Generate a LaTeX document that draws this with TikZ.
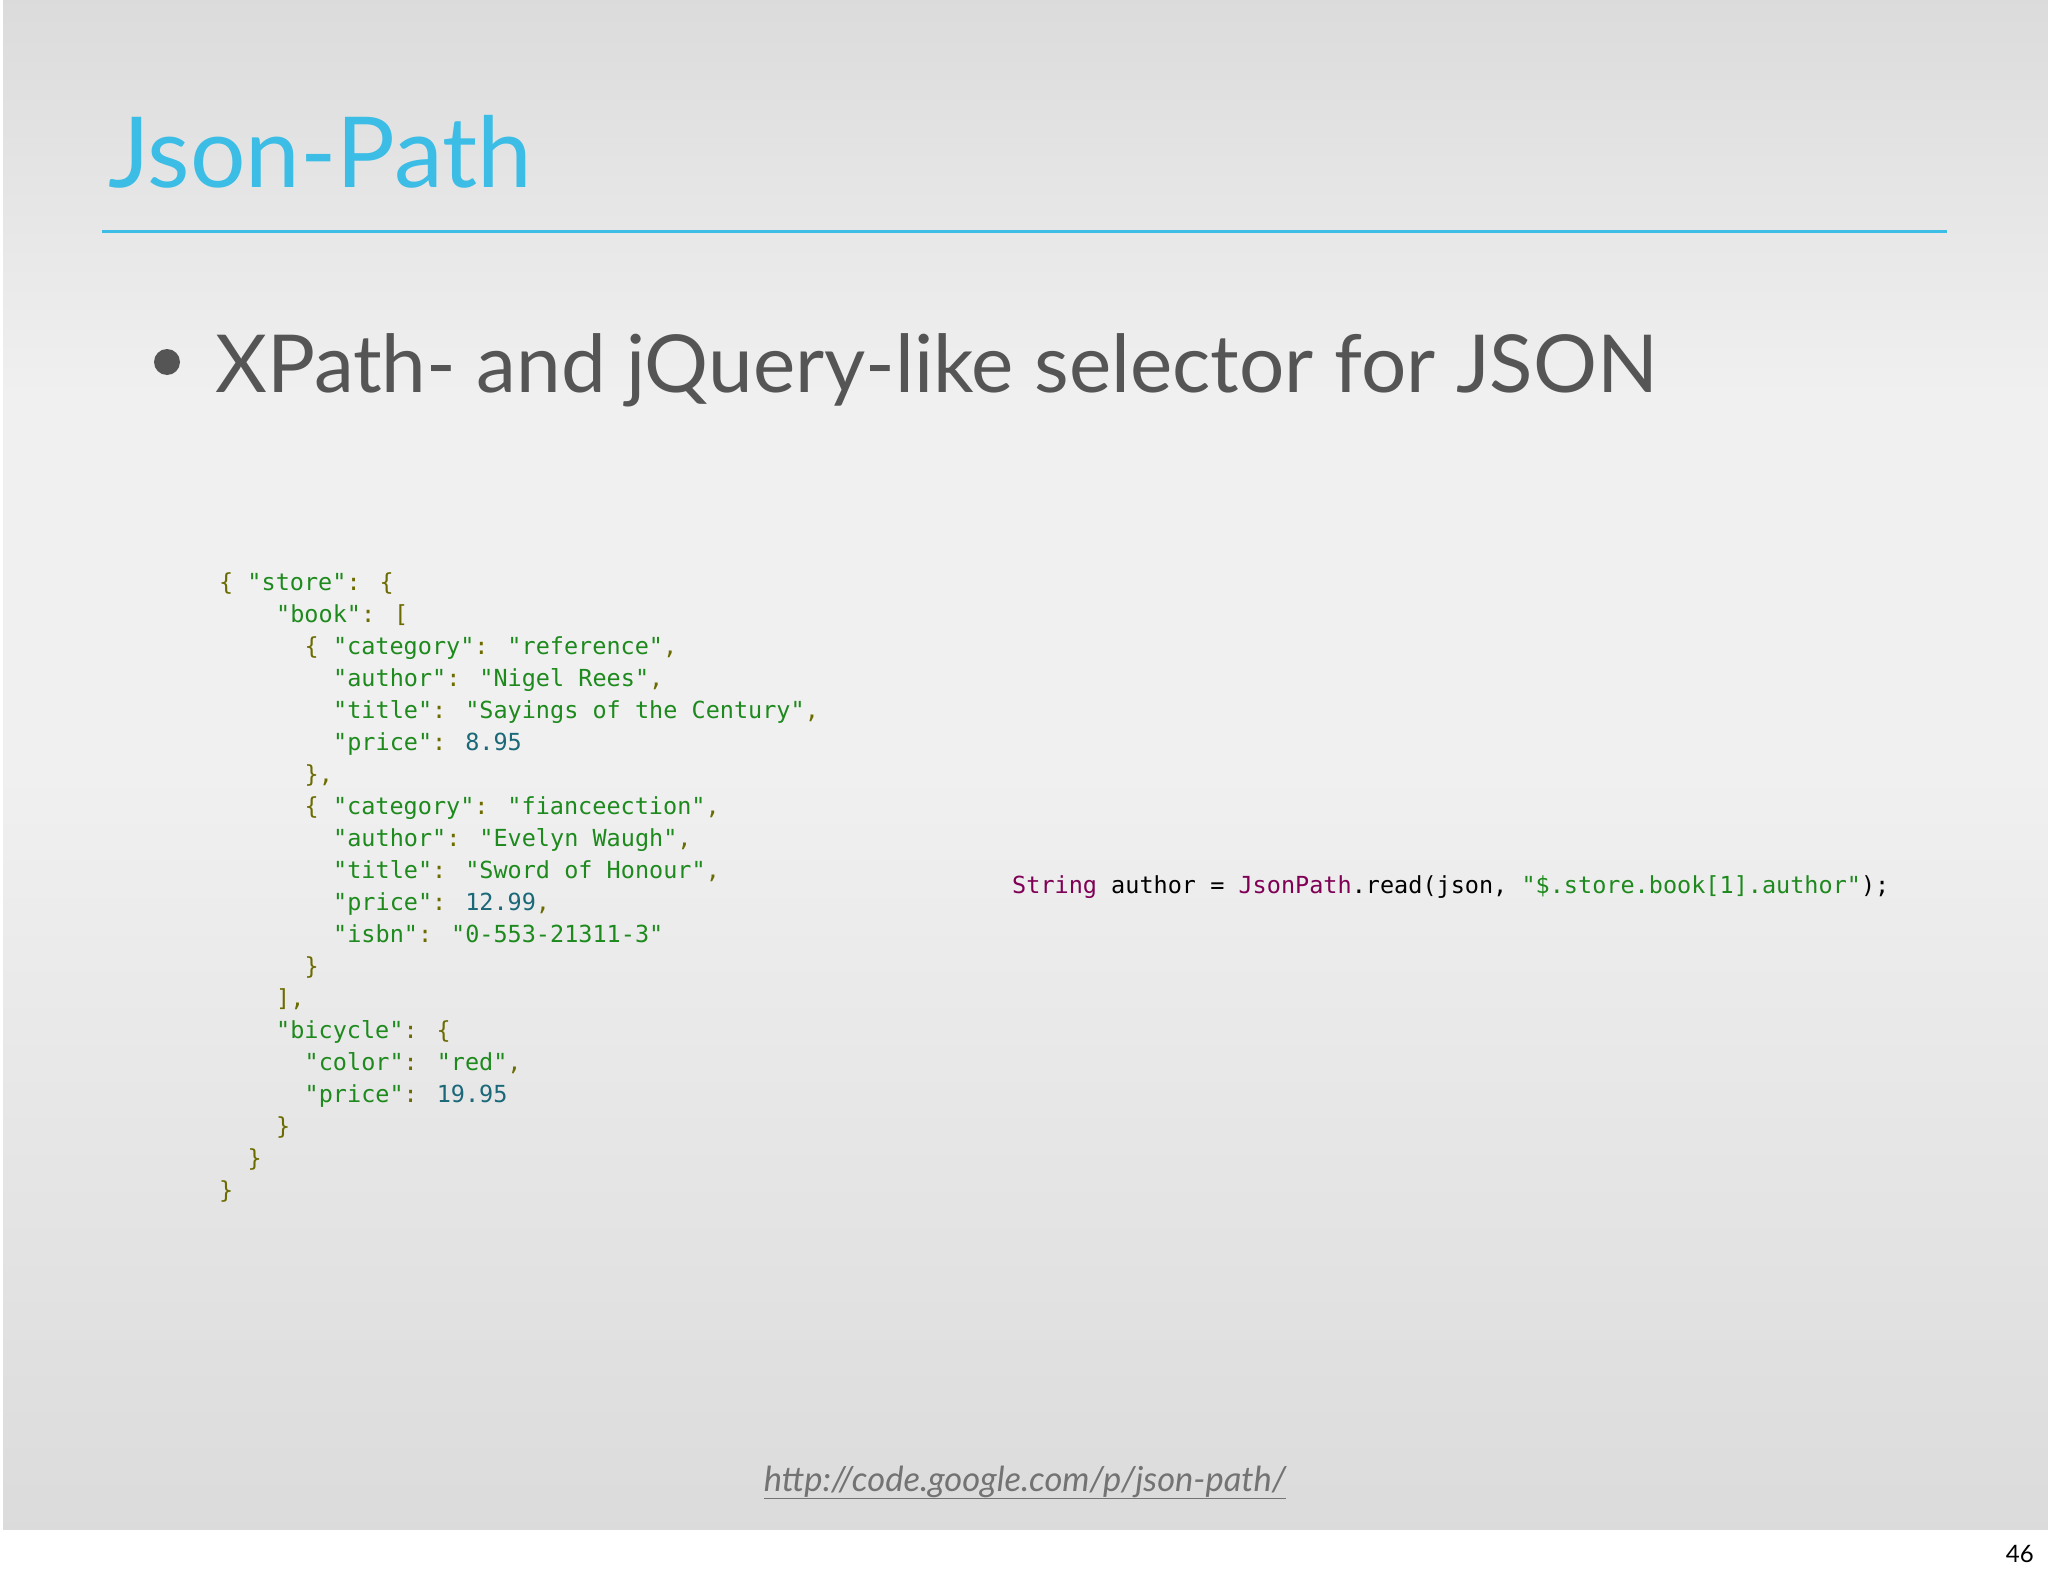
\documentclass[tikz,border=0pt]{standalone}
\usepackage{fontspec}
\setmainfont{Lato}
\newfontfamily\codefont{DejaVu Sans Mono}
\definecolor{cyanT}{HTML}{3BBDE6}
\definecolor{olv}{HTML}{6B6B00}
\definecolor{grn}{HTML}{1E8A1E}
\definecolor{tel}{HTML}{1A6878}
\definecolor{prp}{HTML}{7F0055}
\definecolor{txt}{HTML}{555555}
\newcommand{\po}[1]{\textcolor{olv}{#1}}
\newcommand{\st}[1]{\textcolor{grn}{#1}}
\newcommand{\nm}[1]{\textcolor{tel}{#1}}
\begin{document}
\begin{tikzpicture}[x=1pt,y=-1pt,
  codeline/.style={anchor=base west,inner sep=0pt,font=\codefont\fontsize{23.5}{32}\selectfont}]
\useasboundingbox (0,0) rectangle (2048,1576);
\fill[white] (0,0) rectangle (2048,1576);
\shade[top color=black!14,bottom color=black!6,middle color=black!6] (3,0) rectangle (2048,780);
\shade[top color=black!6,bottom color=black!14] (3,780) rectangle (2048,1529);
\node[anchor=base west,inner sep=0pt,text=cyanT,font=\fontsize{98}{110}\selectfont] (title) at (108,187) {Json-Path};
\draw[cyanT,line width=3pt] (102,231) coordinate (la) -- (1947,231) coordinate (lb);
\fill[txt] (167,362) circle (13) node (bul) {};
\node[anchor=base west,inner sep=0pt,text=txt,font=\fontsize{80}{92}\selectfont] (bt) at (215,392) {XPath- and jQuery-like selector for JSON};
\def\cx{219}\def\cw{14.25}
\node[codeline] (l1) at (\cx+0*\cw,590) {\po{\{} \st{"store"}\po{: \{}};
\node[codeline] (l2) at (\cx+4*\cw,622) {\st{"book"}\po{: [}};
\node[codeline] (l3) at (\cx+6*\cw,654) {\po{\{} \st{"category"}\po{:} \st{"reference"}\po{,}};
\node[codeline] (l4) at (\cx+8*\cw,686) {\st{"author"}\po{:} \st{"Nigel Rees"}\po{,}};
\node[codeline] (l5) at (\cx+8*\cw,718) {\st{"title"}\po{:} \st{"Sayings of the Century"}\po{,}};
\node[codeline] (l6) at (\cx+8*\cw,750) {\st{"price"}\po{:} \nm{8.95}};
\node[codeline] (l7) at (\cx+6*\cw,782) {\po{\},}};
\node[codeline] (l8) at (\cx+6*\cw,814) {\po{\{} \st{"category"}\po{:} \st{"fianceection"}\po{,}};
\node[codeline] (l9) at (\cx+8*\cw,846) {\st{"author"}\po{:} \st{"Evelyn Waugh"}\po{,}};
\node[codeline] (l10) at (\cx+8*\cw,878) {\st{"title"}\po{:} \st{"Sword of Honour"}\po{,}};
\node[codeline] (l11) at (\cx+8*\cw,910) {\st{"price"}\po{:} \nm{12.99}\po{,}};
\node[codeline] (l12) at (\cx+8*\cw,942) {\st{"isbn"}\po{:} \st{"0-553-21311-3"}};
\node[codeline] (l13) at (\cx+6*\cw,974) {\po{\}}};
\node[codeline] (l14) at (\cx+4*\cw,1006) {\po{],}};
\node[codeline] (l15) at (\cx+4*\cw,1038) {\st{"bicycle"}\po{: \{}};
\node[codeline] (l16) at (\cx+6*\cw,1070) {\st{"color"}\po{:} \st{"red"}\po{,}};
\node[codeline] (l17) at (\cx+6*\cw,1102) {\st{"price"}\po{:} \nm{19.95}};
\node[codeline] (l18) at (\cx+4*\cw,1134) {\po{\}}};
\node[codeline] (l19) at (\cx+2*\cw,1166) {\po{\}}};
\node[codeline] (l20) at (\cx+0*\cw,1198) {\po{\}}};
\node[codeline] (java) at (1012,893) {\textcolor{prp}{String} author = \textcolor{prp}{JsonPath}.read(json, \st{"\$.store.book[1].author"});};
\node[anchor=base,inner sep=0pt,text=black!55,font=\itshape\fontsize{34.5}{40}\selectfont] (url) at (1025,1491) {\underline{http://code.google.com/p/json-path/}};
\node[anchor=base east,inner sep=0pt,font=\fontsize{24}{28}\selectfont] (pg) at (2034,1562) {46};
\end{tikzpicture}
\end{document}
